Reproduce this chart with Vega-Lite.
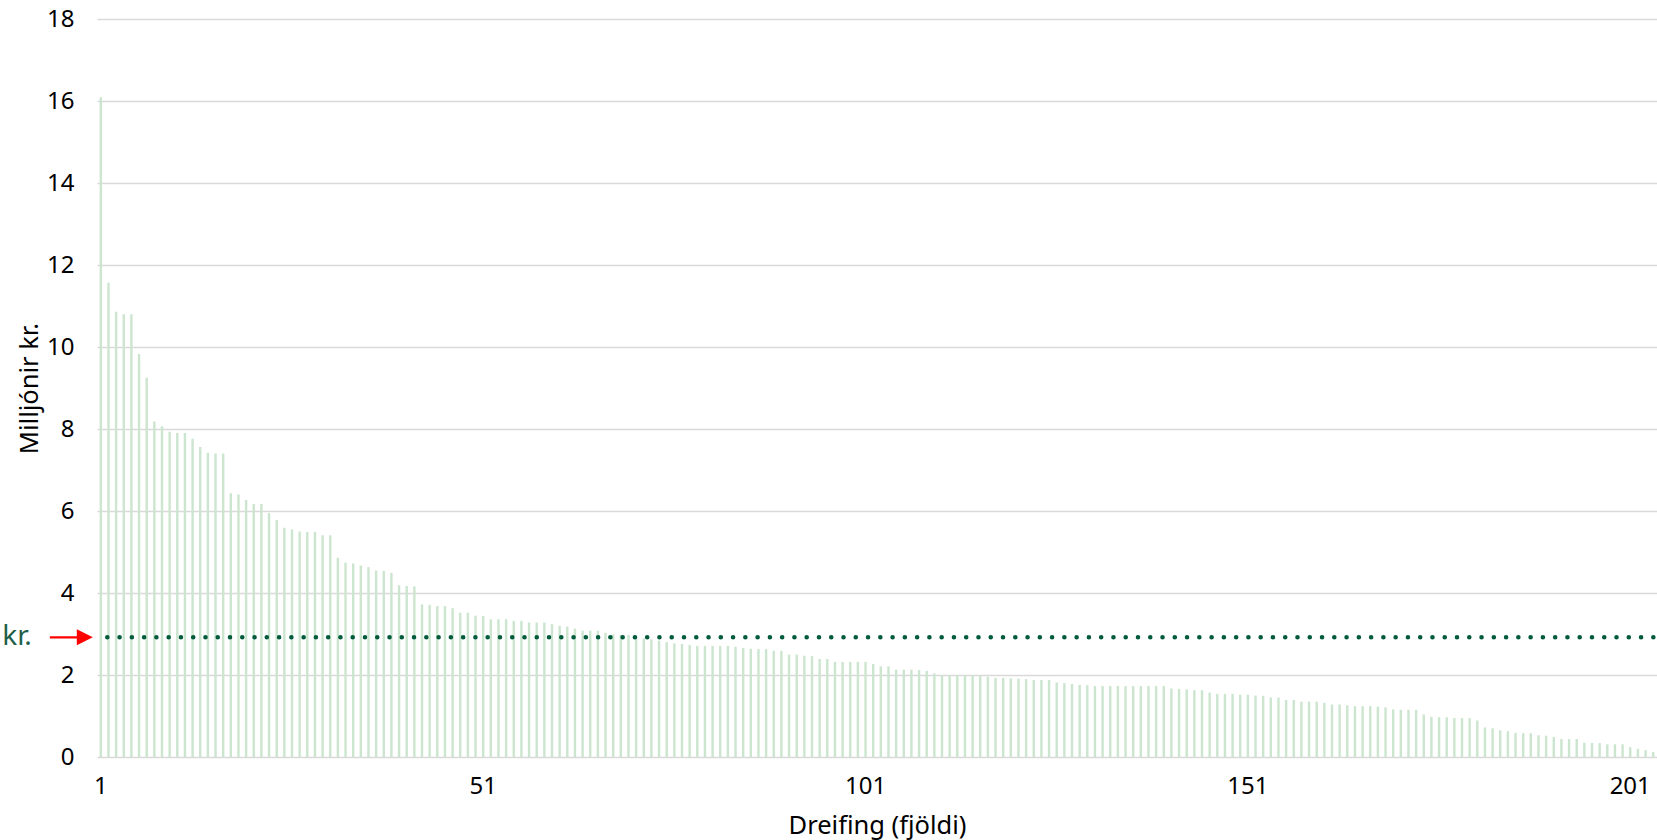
{
  "$schema": "https://vega.github.io/schema/vega-lite/v6.json",
  "width": 1560,
  "height": 738,
  "autosize": {"type": "none"},
  "padding": {"left": 97, "top": 19, "right": 0, "bottom": 83},
  "background": "white",
  "config": {"view": {"stroke": null}, "font": "Noto Sans"},
  "datasets": {
    "bars": [
      {"n":1,"v":16.09},{"n":2,"v":11.57},{"n":3,"v":10.86},{"n":4,"v":10.8},{"n":5,"v":10.8},{"n":6,"v":9.83},{"n":7,"v":9.25},{"n":8,"v":8.18},{"n":9,"v":8.07},{"n":10,"v":7.93},
      {"n":11,"v":7.9},{"n":12,"v":7.9},{"n":13,"v":7.76},{"n":14,"v":7.56},{"n":15,"v":7.42},{"n":16,"v":7.4},{"n":17,"v":7.4},{"n":18,"v":6.43},{"n":19,"v":6.4},{"n":20,"v":6.27},
      {"n":21,"v":6.17},{"n":22,"v":6.17},{"n":23,"v":5.95},{"n":24,"v":5.78},{"n":25,"v":5.59},{"n":26,"v":5.55},{"n":27,"v":5.5},{"n":28,"v":5.49},{"n":29,"v":5.49},{"n":30,"v":5.41},
      {"n":31,"v":5.41},{"n":32,"v":4.86},{"n":33,"v":4.74},{"n":34,"v":4.72},{"n":35,"v":4.67},{"n":36,"v":4.63},{"n":37,"v":4.55},{"n":38,"v":4.54},{"n":39,"v":4.49},{"n":40,"v":4.19},
      {"n":41,"v":4.17},{"n":42,"v":4.16},{"n":43,"v":3.72},{"n":44,"v":3.71},{"n":45,"v":3.68},{"n":46,"v":3.68},{"n":47,"v":3.63},{"n":48,"v":3.52},{"n":49,"v":3.52},{"n":50,"v":3.45},
      {"n":51,"v":3.44},{"n":52,"v":3.36},{"n":53,"v":3.36},{"n":54,"v":3.36},{"n":55,"v":3.32},{"n":56,"v":3.32},{"n":57,"v":3.28},{"n":58,"v":3.28},{"n":59,"v":3.28},{"n":60,"v":3.24},
      {"n":61,"v":3.2},{"n":62,"v":3.18},{"n":63,"v":3.13},{"n":64,"v":3.08},{"n":65,"v":3.08},{"n":66,"v":3.08},{"n":67,"v":3.03},{"n":68,"v":2.99},{"n":69,"v":2.98},{"n":70,"v":2.98},
      {"n":71,"v":2.96},{"n":72,"v":2.89},{"n":73,"v":2.87},{"n":74,"v":2.84},{"n":75,"v":2.8},{"n":76,"v":2.77},{"n":77,"v":2.76},{"n":78,"v":2.73},{"n":79,"v":2.71},{"n":80,"v":2.71},
      {"n":81,"v":2.71},{"n":82,"v":2.71},{"n":83,"v":2.71},{"n":84,"v":2.69},{"n":85,"v":2.66},{"n":86,"v":2.64},{"n":87,"v":2.63},{"n":88,"v":2.63},{"n":89,"v":2.59},{"n":90,"v":2.59},
      {"n":91,"v":2.5},{"n":92,"v":2.5},{"n":93,"v":2.47},{"n":94,"v":2.46},{"n":95,"v":2.39},{"n":96,"v":2.39},{"n":97,"v":2.32},{"n":98,"v":2.32},{"n":99,"v":2.32},{"n":100,"v":2.32},
      {"n":101,"v":2.32},{"n":102,"v":2.27},{"n":103,"v":2.21},{"n":104,"v":2.21},{"n":105,"v":2.13},{"n":106,"v":2.13},{"n":107,"v":2.13},{"n":108,"v":2.12},{"n":109,"v":2.1},{"n":110,"v":2.04},
      {"n":111,"v":2.0},{"n":112,"v":2.0},{"n":113,"v":2.0},{"n":114,"v":2.0},{"n":115,"v":2.0},{"n":116,"v":1.99},{"n":117,"v":1.96},{"n":118,"v":1.93},{"n":119,"v":1.93},{"n":120,"v":1.92},
      {"n":121,"v":1.91},{"n":122,"v":1.9},{"n":123,"v":1.88},{"n":124,"v":1.88},{"n":125,"v":1.88},{"n":126,"v":1.82},{"n":127,"v":1.8},{"n":128,"v":1.78},{"n":129,"v":1.76},{"n":130,"v":1.75},
      {"n":131,"v":1.73},{"n":132,"v":1.73},{"n":133,"v":1.73},{"n":134,"v":1.73},{"n":135,"v":1.73},{"n":136,"v":1.73},{"n":137,"v":1.73},{"n":138,"v":1.73},{"n":139,"v":1.73},{"n":140,"v":1.73},
      {"n":141,"v":1.67},{"n":142,"v":1.66},{"n":143,"v":1.65},{"n":144,"v":1.63},{"n":145,"v":1.63},{"n":146,"v":1.57},{"n":147,"v":1.54},{"n":148,"v":1.54},{"n":149,"v":1.54},{"n":150,"v":1.52},
      {"n":151,"v":1.52},{"n":152,"v":1.5},{"n":153,"v":1.49},{"n":154,"v":1.45},{"n":155,"v":1.45},{"n":156,"v":1.39},{"n":157,"v":1.39},{"n":158,"v":1.35},{"n":159,"v":1.35},{"n":160,"v":1.35},
      {"n":161,"v":1.32},{"n":162,"v":1.28},{"n":163,"v":1.28},{"n":164,"v":1.26},{"n":165,"v":1.24},{"n":166,"v":1.24},{"n":167,"v":1.24},{"n":168,"v":1.23},{"n":169,"v":1.21},{"n":170,"v":1.16},
      {"n":171,"v":1.15},{"n":172,"v":1.15},{"n":173,"v":1.15},{"n":174,"v":1.04},{"n":175,"v":0.98},{"n":176,"v":0.97},{"n":177,"v":0.97},{"n":178,"v":0.95},{"n":179,"v":0.95},{"n":180,"v":0.95},
      {"n":181,"v":0.89},{"n":182,"v":0.72},{"n":183,"v":0.7},{"n":184,"v":0.65},{"n":185,"v":0.63},{"n":186,"v":0.59},{"n":187,"v":0.58},{"n":188,"v":0.58},{"n":189,"v":0.53},{"n":190,"v":0.52},
      {"n":191,"v":0.49},{"n":192,"v":0.44},{"n":193,"v":0.44},{"n":194,"v":0.44},{"n":195,"v":0.35},{"n":196,"v":0.34},{"n":197,"v":0.34},{"n":198,"v":0.31},{"n":199,"v":0.31},{"n":200,"v":0.31},
      {"n":201,"v":0.24},{"n":202,"v":0.2},{"n":203,"v":0.17},{"n":204,"v":0.12}
    ],
    "avg": [{"n": 1, "v": 2.92, "label": "kr."}]
  },
  "layer": [
    {
      "data": {"name": "bars"},
      "mark": {"type": "bar", "width": 2.4, "color": "#CCE5CF"},
      "encoding": {
        "x": {
          "field": "n", "type": "ordinal",
          "scale": {"paddingInner": 0, "paddingOuter": 0},
          "axis": {
            "title": "Dreifing (fjöldi)",
            "values": [1, 51, 101, 151, 201],
            "labelAngle": 0, "labelFontSize": 24, "labelColor": "#000000", "labelPadding": 17,
            "ticks": false, "domain": false, "grid": false,
            "titleFontSize": 25.5, "titleFontWeight": "normal", "titleColor": "#000000",
            "titleBaseline": "alphabetic", "titleY": 76
          }
        },
        "y": {
          "field": "v", "type": "quantitative",
          "scale": {"domain": [0, 18], "nice": false},
          "axis": {
            "title": "Milljónir kr.",
            "values": [0, 2, 4, 6, 8, 10, 12, 14, 16, 18],
            "labelFontSize": 24, "labelColor": "#000000", "labelPadding": 23,
            "ticks": false, "domain": false, "grid": true, "gridColor": "#D9D9D9", "gridWidth": 1.5,
            "titleFontSize": 25.5, "titleFontWeight": "normal", "titleColor": "#000000",
            "titleBaseline": "alphabetic", "titleX": -60, "titleY": 369
          }
        }
      }
    },
    {
      "data": {"name": "avg"},
      "mark": {"type": "rule", "color": "#005A3C", "strokeWidth": 4.6, "strokeDash": [0, 12.27], "strokeCap": "round", "strokeDashOffset": 8.6},
      "encoding": {"y": {"field": "v", "type": "quantitative"}}
    },
    {
      "data": {"name": "avg"},
      "mark": {"type": "rule", "color": "#FF0000", "strokeWidth": 2.2, "xOffset": -51, "x2Offset": -18},
      "encoding": {
        "x": {"field": "n", "type": "ordinal"},
        "x2": {"field": "n"},
        "y": {"field": "v", "type": "quantitative"}
      }
    },
    {
      "data": {"name": "avg"},
      "mark": {"type": "point", "shape": "M-1,-1L1,0L-1,1Z", "size": 256, "filled": true, "color": "#FF0000", "opacity": 1, "strokeWidth": 0, "xOffset": -16},
      "encoding": {
        "x": {"field": "n", "type": "ordinal"},
        "y": {"field": "v", "type": "quantitative"}
      }
    },
    {
      "data": {"name": "avg"},
      "mark": {"type": "text", "align": "right", "baseline": "alphabetic", "dx": -69, "dy": 8, "fontSize": 28, "color": "#1E5E48"},
      "encoding": {
        "x": {"field": "n", "type": "ordinal"},
        "y": {"field": "v", "type": "quantitative"},
        "text": {"field": "label"}
      }
    }
  ]
}
